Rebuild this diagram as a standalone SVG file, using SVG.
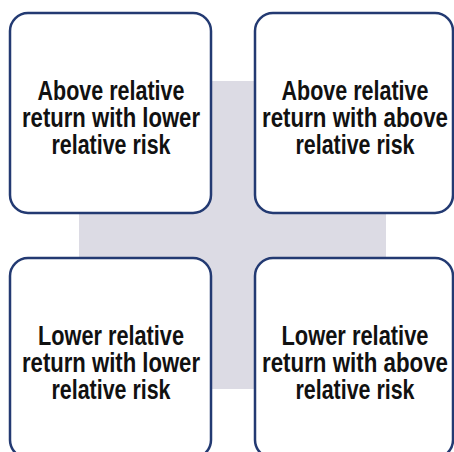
<svg xmlns="http://www.w3.org/2000/svg" width="454" height="452" viewBox="0 0 454 452">
  <style>
    .bg { fill: #dcdbe4; }
    .box { fill: #ffffff; stroke: #233a72; stroke-width: 2.5; }
    .lbl { font-family: "Liberation Sans", Arial, sans-serif; font-weight: bold; font-size: 27px; fill: #111111; text-anchor: middle; }
  </style>
  <rect class="bg" x="79" y="81" width="307" height="308"/>
  <g id="node-tl">
    <rect class="box" x="10" y="13" width="201" height="200" rx="18" ry="18"/>
    <text class="lbl" x="111" y="99.5" textLength="147" lengthAdjust="spacingAndGlyphs">Above relative</text>
    <text class="lbl" x="111" y="126.5" textLength="178" lengthAdjust="spacingAndGlyphs">return with lower</text>
    <text class="lbl" x="111" y="153.5" textLength="119" lengthAdjust="spacingAndGlyphs">relative risk</text>
  </g>
  <g id="node-tr">
    <rect class="box" x="255" y="13" width="198" height="200" rx="18" ry="18"/>
    <text class="lbl" x="355" y="99.5" textLength="147" lengthAdjust="spacingAndGlyphs">Above relative</text>
    <text class="lbl" x="355" y="126.5" textLength="186" lengthAdjust="spacingAndGlyphs">return with above</text>
    <text class="lbl" x="355" y="153.5" textLength="119" lengthAdjust="spacingAndGlyphs">relative risk</text>
  </g>
  <g id="node-bl">
    <rect class="box" x="10" y="258" width="201" height="200" rx="18" ry="18"/>
    <text class="lbl" x="111" y="344.5" textLength="146" lengthAdjust="spacingAndGlyphs">Lower relative</text>
    <text class="lbl" x="111" y="371.5" textLength="178" lengthAdjust="spacingAndGlyphs">return with lower</text>
    <text class="lbl" x="111" y="398.5" textLength="119" lengthAdjust="spacingAndGlyphs">relative risk</text>
  </g>
  <g id="node-br">
    <rect class="box" x="255" y="258" width="198" height="200" rx="18" ry="18"/>
    <text class="lbl" x="355" y="344.5" textLength="147" lengthAdjust="spacingAndGlyphs">Lower relative</text>
    <text class="lbl" x="355" y="371.5" textLength="186" lengthAdjust="spacingAndGlyphs">return with above</text>
    <text class="lbl" x="355" y="398.5" textLength="119" lengthAdjust="spacingAndGlyphs">relative risk</text>
  </g>
  <g id="connectors"></g>
</svg>
